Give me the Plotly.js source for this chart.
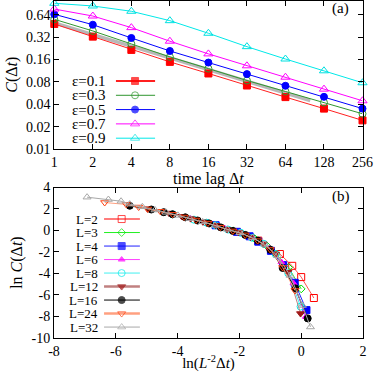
<!DOCTYPE html>
<html>
<head>
<meta charset="utf-8">
<script src="https://cdn.plot.ly/plotly-3.0.1.min.js"></script>
<style>html,body{margin:0;padding:0;background:#fff;}#chart{width:374px;height:372px;}</style>
</head>
<body>
<div id="chart"></div>
<script>
// ---------- Panel (a) data ----------
const dtTop = [1, 2, 4, 8, 16, 32, 64, 128, 256];
const topYTicks = [0.01, 0.02, 0.04, 0.08, 0.16, 0.32, 0.64];
const topYTickText = ['0.01', '0.02', '0.04', '0.08', '0.16', '0.32', '0.64'];
const epsNames = ['ε=0.1', 'ε=0.3', 'ε=0.5', 'ε=0.7', 'ε=0.9'];
const eps01 = [0.483, 0.326, 0.216, 0.149, 0.104, 0.0716, 0.050, 0.035, 0.0243];
const eps03 = [0.558, 0.389, 0.260, 0.174, 0.121, 0.0836, 0.0595, 0.0423, 0.0298];
const eps05 = [0.652, 0.472, 0.313, 0.209, 0.146, 0.102, 0.071, 0.0504, 0.035];
const eps07 = [0.767, 0.618, 0.431, 0.283, 0.191, 0.132, 0.0927, 0.064, 0.0446];
const eps09 = [0.917, 0.844, 0.716, 0.535, 0.362, 0.239, 0.163, 0.113, 0.078];
const fitX = [1, 100];
const fitY = [0.50, 0.045];

// ---------- Panel (b) data ----------
const LNames = ['L=2', 'L=3', 'L=4', 'L=6', 'L=8', 'L=12', 'L=16', 'L=24', 'L=32'];
const L2x = [-1.39, -0.69, -0.29, 0.00, 0.41];
const L2y = [-0.95, -2.2, -3.3, -4.35, -6.3];
const L3x = [-2.20, -1.50, -1.10, -0.81, -0.41, 0.00];
const L3y = [-0.05, -0.78, -1.47, -2.2, -3.45, -5.45];
const L4x = [-2.77, -2.08, -1.67, -1.39, -0.98, -0.58, -0.21, 0.17];
const L4y = [0.48, -0.13, -0.55, -1.05, -1.9, -3.24, -4.88, -7.43];
const L6x = [-3.58, -2.89, -2.48, -2.20, -1.79, -1.39, -1.02, -0.64, -0.25, 0.15];
const L6y = [1.12, 0.55, 0.22, -0.05, -0.45, -0.98, -1.65, -2.95, -4.9, -8.05];
const L8x = [-4.16, -3.47, -3.06, -2.77, -2.37, -1.96, -1.59, -1.21, -0.83, -0.42, -0.02];
const L8y = [1.5, 1.0, 0.72, 0.48, 0.08, -0.22, -0.68, -1.25, -2.2, -4.0, -7.1];
const L12x = [-4.97, -4.28, -3.87, -3.58, -3.18, -2.77, -2.40, -2.03, -1.64, -1.23, -0.83, -0.43, -0.02];
const L12y = [2.02, 1.62, 1.32, 1.1, 0.8, 0.48, 0.1, -0.18, -0.62, -1.25, -2.2, -3.9, -7.75];
const L16x = [-5.55, -4.85, -4.45, -4.16, -3.75, -3.35, -2.98, -2.60, -2.21, -1.81, -1.40, -1.00, -0.60, -0.19, 0.21];
const L16y = [2.3, 1.95, 1.7, 1.5, 1.22, 0.92, 0.65, 0.28, -0.05, -0.42, -0.95, -1.8, -3.5, -5.4, -8.2];
const L24x = [-6.36, -5.66, -5.26, -4.97, -4.56, -4.16, -3.79, -3.41, -3.02, -2.62, -2.21, -1.81, -1.41, -1.00, -0.60, -0.20];
const L24y = [2.6, 2.42, 2.18, 2.0, 1.78, 1.5, 1.25, 0.97, 0.68, 0.3, -0.05, -0.42, -0.95, -1.78, -3.45, -5.6];
const L32x = [-6.93, -6.24, -5.83, -5.55, -5.14, -4.73, -4.37, -3.99, -3.60, -3.19, -2.79, -2.39, -1.98, -1.58, -1.18, -0.77, -0.36, 0.04, 0.30];
const L32y = [3.1, 2.88, 2.72, 2.45, 2.2, 1.9, 1.68, 1.4, 1.1, 0.8, 0.47, 0.1, -0.22, -0.68, -1.3, -2.35, -4.2, -7.0, -9.0];
const botXTicks = [-8, -6, -4, -2, 0, 2];
const botXTickText = ['-8', '-6', '-4', '-2', '0', '2'];
const botYTicks = [-10, -8, -6, -4, -2, 0, 2, 4];
const botYTickText = ['-10', '-8', '-6', '-4', '-2', '0', '2', '4'];

// ---------- styles ----------
const FONT = 'Liberation Serif, Times New Roman, serif';
const topSeries = [
  {y: eps01, color: '#ff0000', line: '#ff2020', symbol: 'square', size: 7},
  {y: eps03, color: '#2e962e', line: '#2e962e', symbol: 'circle-open', size: 7},
  {y: eps05, color: '#0000ff', line: '#0000ff', symbol: 'circle', size: 7},
  {y: eps07, color: '#ff00ff', line: '#ff00ff', symbol: 'triangle-up-open', size: 8},
  {y: eps09, color: '#00e0e0', line: '#00e8e8', symbol: 'triangle-up-open', size: 8}
];
const botSeries = [
  {x: L2x, y: L2y, color: '#ff0000', line: '#ff5050', symbol: 'square-open', size: 7},
  {x: L3x, y: L3y, color: '#00e000', line: '#20f020', symbol: 'diamond-open', size: 6},
  {x: L4x, y: L4y, color: '#0000ff', line: '#2020ff', symbol: 'square', size: 7},
  {x: L6x, y: L6y, color: '#ff00ff', line: '#ff40ff', symbol: 'triangle-up', size: 6},
  {x: L8x, y: L8y, color: '#00e8e8', line: '#40f0f0', symbol: 'circle-open', size: 7},
  {x: L12x, y: L12y, color: '#a01818', line: '#c08080', symbol: 'triangle-down', size: 7},
  {x: L16x, y: L16y, color: '#000000', line: '#000000', symbol: 'circle', size: 7},
  {x: L24x, y: L24y, color: '#ff4010', line: '#ffa080', symbol: 'triangle-down-open', size: 7},
  {x: L32x, y: L32y, color: '#a8a8a8', line: '#a8a8a8', symbol: 'triangle-up-open', size: 7}
];

const traces = [];
// fit line (a)
traces.push({x: fitX, y: fitY, xaxis: 'x', yaxis: 'y', mode: 'lines',
  line: {color: '#b8b8b8', width: 3.5}, hoverinfo: 'skip', cliponaxis: false});
topSeries.forEach(s => traces.push({
  x: dtTop, y: s.y, xaxis: 'x', yaxis: 'y', mode: 'lines+markers', cliponaxis: false,
  line: {color: s.line, width: 1},
  marker: {color: s.color, symbol: s.symbol, size: s.size, line: {color: s.color, width: 1}}
}));
botSeries.forEach(s => traces.push({
  x: s.x, y: s.y, xaxis: 'x2', yaxis: 'y2', mode: 'lines+markers', cliponaxis: false,
  line: {color: s.line, width: 1},
  marker: {color: s.color, symbol: s.symbol, size: s.size, line: {color: s.color, width: 1}}
}));

// ---------- manual legends (panel-fraction coords) ----------
const annotations = [];
function addLegend(series, names, xa, ya, cfg) {
  series.forEach((s, i) => {
    const yy = cfg.y0 - i * cfg.step;
    traces.push({
      x: [cfg.l0, cfg.lm, cfg.l1], y: [yy, yy, yy], xaxis: xa, yaxis: ya,
      mode: 'lines+markers', cliponaxis: false, hoverinfo: 'skip',
      line: {color: s.line, width: cfg.lw[i] || 1},
      marker: {color: s.color, symbol: s.symbol, size: [0, s.size, 0], line: {color: s.color, width: 1}}
    });
    annotations.push({
      xref: xa, yref: ya, x: cfg.tx, y: yy, text: names[i], showarrow: false,
      xanchor: 'right', yanchor: 'middle', font: {family: FONT, size: cfg.fs, color: 'black'}
    });
  });
}
addLegend(topSeries, epsNames, 'x3', 'y3',
  {y0: 0.458, step: 0.0963, l0: 0.200, lm: 0.262, l1: 0.327, tx: 0.175, fs: 15, lw: [2, 1, 1, 1, 1]});
addLegend(botSeries, LNames, 'x4', 'y4',
  {y0: 0.790, step: 0.0899, l0: 0.162, lm: 0.219, l1: 0.278, tx: 0.150, fs: 13, lw: [1.5, 1, 1, 1, 1, 2.5, 1, 2.5, 1]});

annotations.push({xref: 'paper', yref: 'paper', x: 340 / 374, y: 1 - 8.5 / 372, text: '(a)', showarrow: false,
  xanchor: 'center', yanchor: 'middle', font: {family: FONT, size: 15, color: 'black'}});
annotations.push({xref: 'paper', yref: 'paper', x: 340.7 / 374, y: 1 - 196 / 372, text: '(b)', showarrow: false,
  xanchor: 'center', yanchor: 'middle', font: {family: FONT, size: 15, color: 'black'}});

const axBase = {
  showline: true, linecolor: 'black', linewidth: 1, mirror: 'ticks', ticks: 'inside', ticklen: 5,
  tickcolor: 'black', tickwidth: 1, showgrid: false, zeroline: false,
  tickfont: {family: FONT, size: 14, color: 'black'}
};
const xDom = [54.3 / 374, 362.5 / 374];
const layout = {
  width: 374, height: 372, margin: {l: 0, r: 0, t: 0, b: 0},
  paper_bgcolor: 'white', plot_bgcolor: 'rgba(0,0,0,0)', showlegend: false,
  font: {family: FONT, size: 14, color: 'black'},
  xaxis: Object.assign({}, axBase, {domain: xDom, anchor: 'y', type: 'log', range: [0, Math.log10(256)],
    tickmode: 'array', tickvals: dtTop, ticktext: dtTop.map(String),
    title: {text: 'time lag Δ<i>t</i>', standoff: 0, font: {family: FONT, size: 16}}}),
  yaxis: Object.assign({}, axBase, {domain: [1 - 149 / 372, 1 - 0.5 / 372], anchor: 'x', type: 'log', range: [-2, 0],
    tickmode: 'array', tickvals: topYTicks, ticktext: topYTickText,
    title: {text: '<i>C</i>(Δ<i>t</i>)', standoff: 4, font: {family: FONT, size: 16}}}),
  xaxis2: Object.assign({}, axBase, {domain: [54 / 374, 363 / 374], anchor: 'y2', range: [-8, 2],
    tickmode: 'array', tickvals: botXTicks, ticktext: botXTickText,
    title: {text: 'ln(<i>L</i><sup>-2</sup>Δ<i>t</i>)', standoff: 0, font: {family: FONT, size: 15}}}),
  yaxis2: Object.assign({}, axBase, {domain: [1 - 337.7 / 372, 1 - 187.5 / 372], anchor: 'x2', range: [-10, 4],
    tickmode: 'array', tickvals: botYTicks, ticktext: botYTickText,
    title: {text: 'ln <i>C</i>(Δ<i>t</i>)', standoff: 4, font: {family: FONT, size: 16}}}),
  xaxis3: {overlaying: 'x', anchor: 'y3', range: [0, 1], visible: false, fixedrange: true},
  yaxis3: {overlaying: 'y', anchor: 'x3', range: [0, 1], visible: false, fixedrange: true},
  xaxis4: {overlaying: 'x2', anchor: 'y4', range: [0, 1], visible: false, fixedrange: true},
  yaxis4: {overlaying: 'y2', anchor: 'x4', range: [0, 1], visible: false, fixedrange: true},
  annotations: annotations
};
Plotly.newPlot('chart', traces, layout, {staticPlot: true, displayModeBar: false});
</script>
</body>
</html>
